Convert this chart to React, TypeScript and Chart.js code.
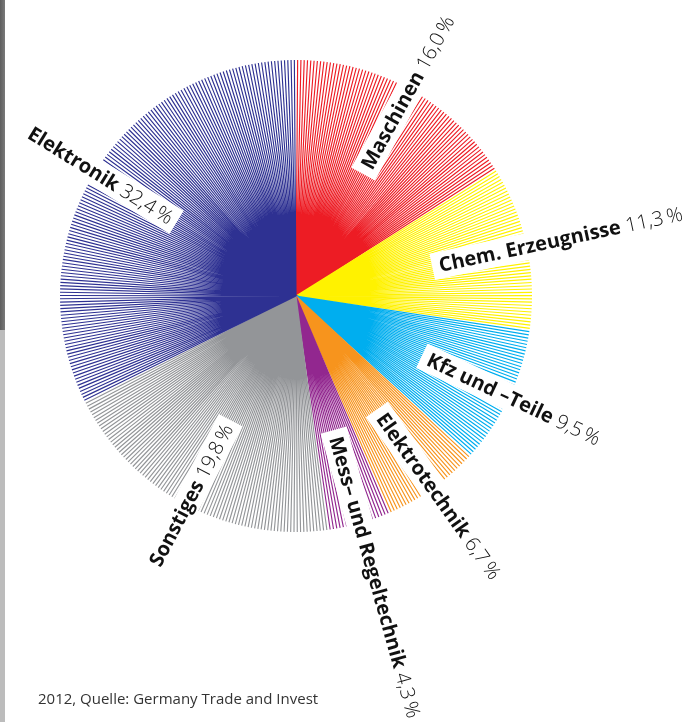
import React, { useEffect, useRef } from 'react';
import { Chart, registerables } from 'chart.js';

Chart.register(...registerables);

// ---- data ----
const categories = [
  'Maschinen',
  'Chem. Erzeugnisse',
  'Kfz und –Teile',
  'Elektrotechnik',
  'Mess– und Regeltechnik',
  'Sonstiges',
  'Elektronik',
];
const shares = [16.0, 11.3, 9.5, 6.7, 4.3, 19.8, 32.4];
const shareLabels = ['16,0\u2009%', '11,3\u2009%', '9,5\u2009%', '6,7\u2009%', '4,3\u2009%', '19,8\u2009%', '32,4\u2009%'];
const sliceColors = ['#ed1c24', '#fff200', '#00aeef', '#f7941d', '#92278f', '#939598', '#2e3192'];
const sourceNote = '2012, Quelle: Germany Trade and Invest';

const FONT = '"Open Sans", "DejaVu Sans", sans-serif';
const LABEL_SIZE = 20;

const radialPlugin = {
  id: 'radialLines',
  afterDatasetsDraw(chart: any) {
    const ctx: CanvasRenderingContext2D = chart.ctx;
    const meta = chart.getDatasetMeta(0);
    const stepDeg = 0.8;
    ctx.save();
    ctx.lineWidth = 1.15;
    ctx.lineCap = 'butt';
    meta.data.forEach((arc: any, i: number) => {
      const p = arc.getProps(['x', 'y', 'startAngle', 'endAngle', 'outerRadius'], true);
      const sweep = p.endAngle - p.startAngle;
      const n = Math.max(1, Math.round(sweep / ((stepDeg * Math.PI) / 180)));
      const st = sweep / n;
      ctx.strokeStyle = sliceColors[i];
      ctx.beginPath();
      for (let j = 0; j < n; j++) {
        const a = p.startAngle + (j + 0.5) * st;
        ctx.moveTo(p.x, p.y);
        ctx.lineTo(p.x + p.outerRadius * Math.cos(a), p.y + p.outerRadius * Math.sin(a));
      }
      ctx.stroke();
    });

    // labels
    meta.data.forEach((arc: any, i: number) => {
      const p = arc.getProps(['x', 'y', 'startAngle', 'endAngle', 'outerRadius'], true);
      const mid = (p.startAngle + p.endAngle) / 2;
      const left = Math.cos(mid) < 0;
      const bold = `700 ${LABEL_SIZE}px ${FONT}`;
      const light = `300 ${LABEL_SIZE}px ${FONT}`;
      const name = categories[i];
      const pct = ' ' + shareLabels[i];
      ctx.save();
      ctx.translate(p.x, p.y);
      ctx.rotate(left ? mid + Math.PI : mid);
      ctx.font = bold;
      const w1 = ctx.measureText(name).width;
      ctx.font = light;
      const w2 = ctx.measureText(pct).width;
      const total = w1 + w2;
      const r0 = p.outerRadius * 0.62;
      const sx = left ? -r0 - total : r0;
      const bh = 27;
      ctx.fillStyle = '#ffffff';
      ctx.fillRect(sx - 7, -bh / 2, total + 13, bh);
      ctx.fillStyle = '#111111';
      ctx.textBaseline = 'middle';
      ctx.textAlign = 'left';
      ctx.font = bold;
      ctx.fillText(name, sx, 1);
      ctx.font = light;
      ctx.fillText(pct, sx + w1, 1);
      ctx.restore();
    });
    ctx.restore();
  },
};

export default function App() {
  const ref = useRef<HTMLCanvasElement | null>(null);

  useEffect(() => {
    document.body.style.margin = '0';
    const canvas = ref.current;
    if (!canvas) return;
    const chart = new Chart(canvas, {
      type: 'pie',
      data: {
        labels: categories,
        datasets: [
          {
            data: shares,
            backgroundColor: 'rgba(0,0,0,0)',
            borderWidth: 0,
            hoverOffset: 0,
            offset: 0,
          } as any,
        ],
      },
      options: {
        animation: false,
        responsive: false,
        maintainAspectRatio: false,
        devicePixelRatio: 1,
        events: [],
        layout: { padding: { left: 60, right: 152, top: 60, bottom: 190 } },
        plugins: {
          legend: { display: false },
          tooltip: { enabled: false },
        },
      } as any,
      plugins: [radialPlugin],
    });
    return () => chart.destroy();
  }, []);

  return (
    <div style={{ position: 'fixed', left: 0, top: 0, width: 684, height: 722, background: '#fff', overflow: 'hidden' }}>
      <div style={{ position: 'absolute', left: 0, top: 0, width: 5, height: 330, background: 'linear-gradient(to right, #5e5e5e, #7a7a7a)' }} />
      <div style={{ position: 'absolute', left: 0, top: 330, width: 5, height: 392, background: '#bcbcbc' }} />
      <canvas ref={ref} width={684} height={722} style={{ position: 'absolute', left: 0, top: 0 }} />
      <div
        style={{
          position: 'absolute',
          left: 38,
          top: 688,
          fontFamily: FONT,
          fontSize: 15,
          color: '#333',
          whiteSpace: 'nowrap',
          lineHeight: '20px',
        }}
      >
        {sourceNote}
      </div>
    </div>
  );
}
